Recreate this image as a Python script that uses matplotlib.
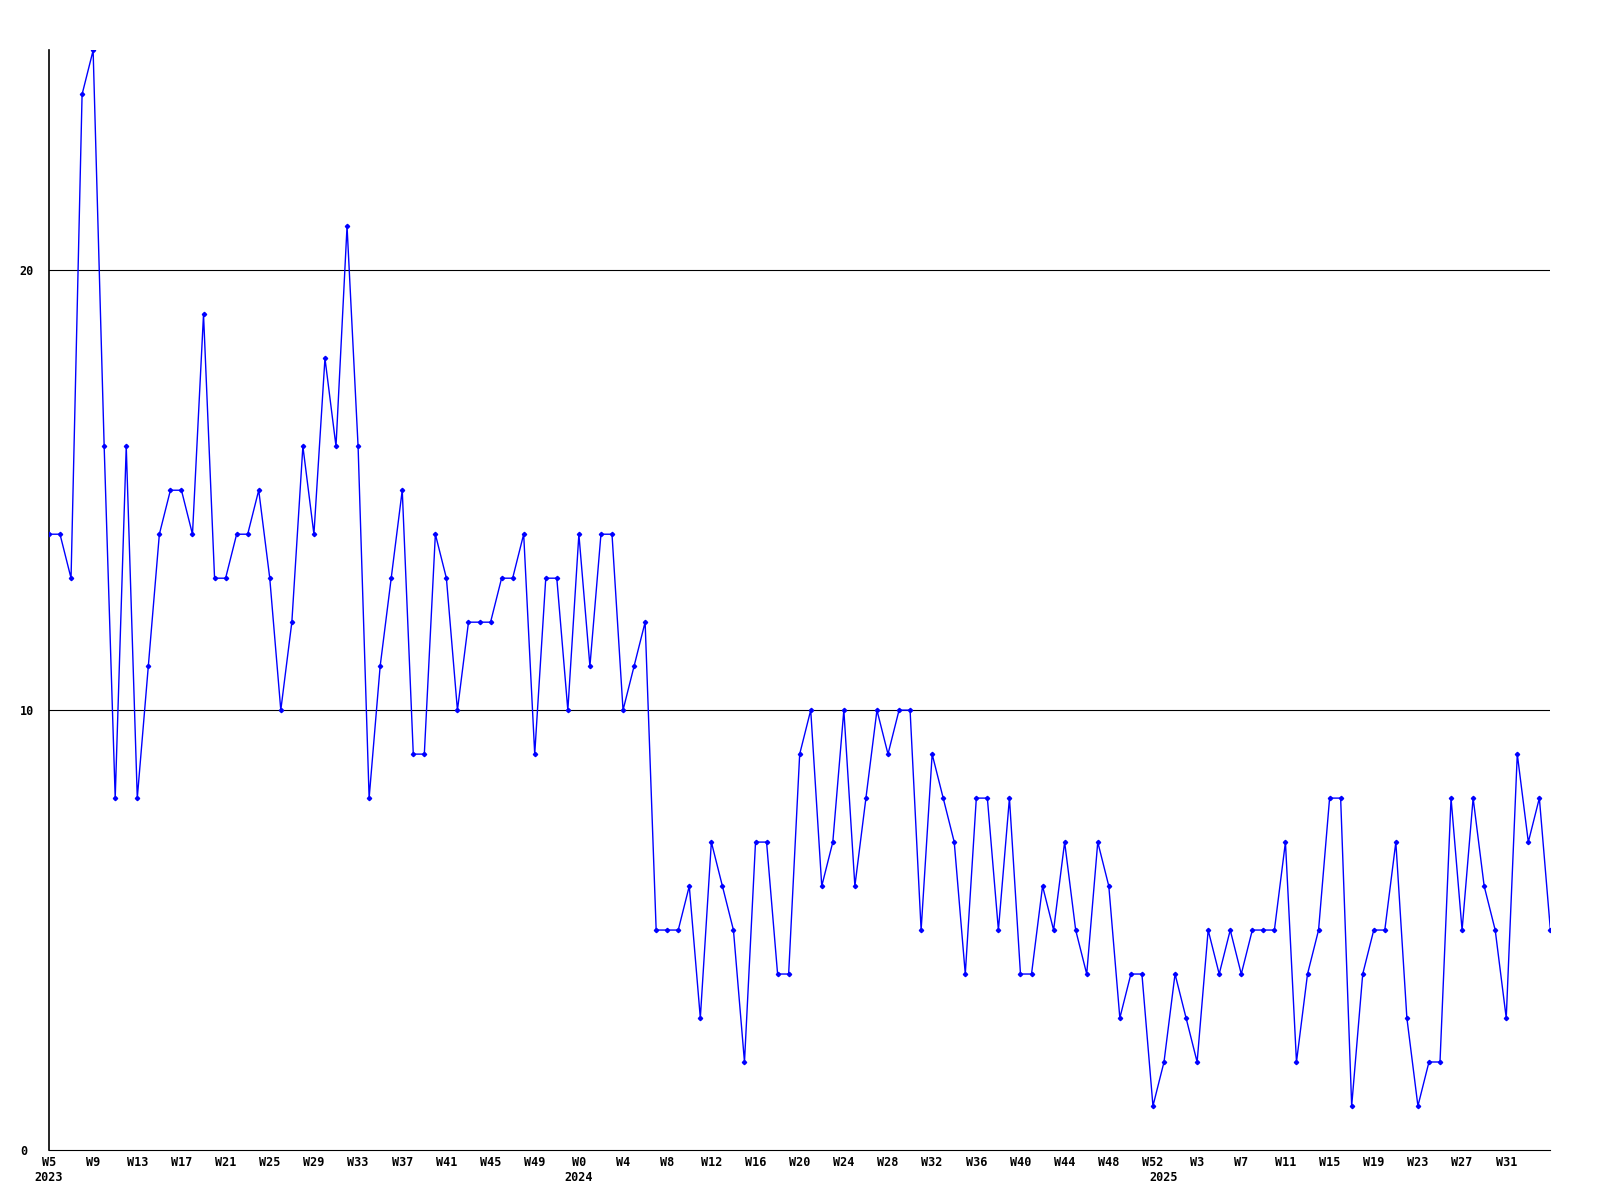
import matplotlib
matplotlib.use("Agg")
import matplotlib.pyplot as plt
import numpy as np

# ---- data -------------------------------------------------------------
values_2023 = [14, 14, 13, 24, 25, 16, 8, 16, 8, 11, 14, 15, 15, 14, 19, 13,
               13, 14, 14, 15, 13, 10, 12, 16, 14, 18, 16, 21, 16, 8, 11, 13,
               15, 9, 9, 14, 13, 10, 12, 12, 12, 13, 13, 14, 9, 13, 13, 10]
values_2024 = [14, 11, 14, 14, 10, 11, 12, 5, 5, 5, 6, 3, 7, 6, 5, 2,
               7, 7, 4, 4, 9, 10, 6, 7, 10, 6, 8, 10, 9, 10, 10, 5,
               9, 8, 7, 4, 8, 8, 5, 8, 4, 4, 6, 5, 7, 5, 4, 7,
               6, 3, 4, 4, 1]
values_2025 = [2, 4, 3, 2, 5, 4, 5, 4, 5, 5, 5, 7, 2, 4, 5, 8,
               8, 1, 4, 5, 5, 7, 3, 1, 2, 2, 8, 5, 8, 6, 5, 3,
               9, 7, 8, 5]
years = [2023, 2024, 2025]
first_week = [5, 0, 0]
series = [values_2023, values_2024, values_2025]
yticks = [0, 10, 20]
ymax = 25
tick_every = 4

values = []
week_nums = []
year_of = []
for yr, fw, vals in zip(years, first_week, series):
    for k, v in enumerate(vals):
        values.append(v)
        week_nums.append(fw + k)
        year_of.append(yr)
x = np.arange(len(values))

# ---- figure -----------------------------------------------------------
fig = plt.figure(figsize=(16, 12), dpi=100)
ax = fig.add_axes([0.0306, 0.0417, 0.969 - 0.0306, 0.958 - 0.0417])

font = dict(family="DejaVu Sans Mono", weight="bold", size=8.5)

for yv in yticks[1:]:
    ax.axhline(yv, color="black", lw=0.8, zorder=1)

ax.plot(x, values, color="#0000FF", lw=1.0, marker="D", markersize=2.2,
        markerfacecolor="#0000FF", markeredgecolor="#0000FF", zorder=3)

ax.set_xlim(0, len(values) - 1)
ax.set_ylim(0, ymax)

for s in ["top", "right"]:
    ax.spines[s].set_visible(False)
ax.spines["left"].set_linewidth(1.2)
ax.spines["bottom"].set_linewidth(0.8)

ax.set_yticks(yticks)
ax.set_yticklabels([str(t) for t in yticks], fontdict=font)
for lab in ax.get_yticklabels():
    lab.set_horizontalalignment("left")
ax.tick_params(axis="y", length=0, pad=21)

# week ticks every 4 weeks, not at the very last point
tick_idx = x[:-1][::tick_every]
ax.set_xticks(tick_idx)
ax.set_xticklabels([f"W{week_nums[i]}" for i in tick_idx], fontdict=font)
ax.tick_params(axis="x", length=0, pad=4.5)

# year labels at the first week of each year
seen = set()
for i, yr in enumerate(year_of):
    if yr not in seen:
        seen.add(yr)
        ax.annotate(str(yr), xy=(i, 0), xycoords=("data", "axes fraction"),
                    xytext=(0, -19.5), textcoords="offset points",
                    ha="center", va="center", annotation_clip=False, **font)

fig.savefig("out.png", dpi=100, facecolor="white")
